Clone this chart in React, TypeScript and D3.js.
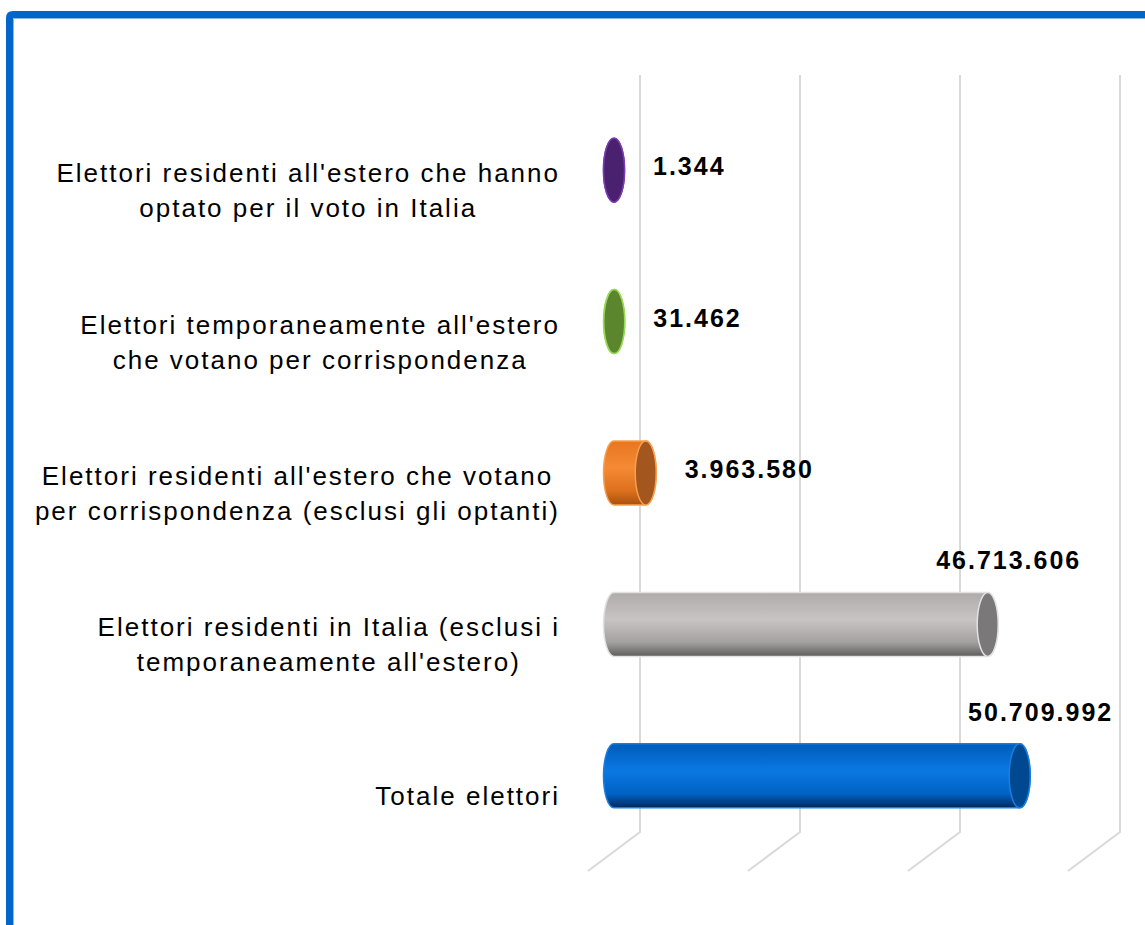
import React, { useEffect, useRef } from "react";
import * as d3 from "d3";

// ---- data ----
const categories = [
  "Elettori residenti all'estero che hanno\noptato per il voto in Italia",
  "Elettori temporaneamente all'estero\nche votano per corrispondenza",
  "Elettori residenti all'estero che votano\nper corrispondenza (esclusi gli optanti)",
  "Elettori residenti in Italia (esclusi i\ntemporaneamente all'estero)",
  "Totale elettori",
];
const values = [1344, 31462, 3963580, 46713606, 50709992];
const axisTicks = [0, 20000000, 40000000, 60000000];

// ---- styles ----
const palettes = [
  { body: ["#5a2a85", "#4a216e", "#3a1858"], cap: "#4a216e", edge: "#7a3ab0" },
  { body: ["#6a9a38", "#5c862e", "#486a22"], cap: "#5c862e", edge: "#9ad95a" },
  { body: ["#e8761f", "#f58a35", "#dc701c", "#a8500f"], cap: "#a3561e", edge: "#f7a050" },
  { body: ["#aeabaa", "#c8c4c3", "#a3a1a0", "#5e5d5d"], cap: "#7a7878", edge: "#e2e2e2" },
  { body: ["#005cb8", "#0a78e2", "#0062c4", "#002a5c"], cap: "#00488f", edge: "#1a7ee0" },
];

const W = 1145;
const H = 925;
const FONT = "'Liberation Sans', Arial, sans-serif";

export default function App() {
  const ref = useRef<SVGSVGElement | null>(null);

  useEffect(() => {
    const svg = d3.select(ref.current);
    svg.selectAll("*").remove();

    const x = d3.scaleLinear().domain([0, 60000000]).range([640, 1120]);
    const y = d3.scaleBand<string>().domain(categories).range([75, 832]);
    const depth = { dx: -52, dy: 39 };
    const mid = { dx: depth.dx / 2, dy: depth.dy / 2 };
    const rx = 10.5;
    const ry = 32;
    const fmt = d3
      .formatLocale({ decimal: ",", thousands: ".", grouping: [3], currency: ["€", ""] })
      .format(",d");

    // frame
    svg
      .append("path")
      .attr("d", `M9.5,${H + 10} L9.5,18 Q9.5,14.5 13,14.5 L${W + 10},14.5`)
      .attr("fill", "none")
      .attr("stroke", "#0066cc")
      .attr("stroke-width", 7);
    svg
      .append("path")
      .attr("d", `M13.5,${H + 10} L13.5,18.5 L${W + 10},18.5`)
      .attr("fill", "none")
      .attr("stroke", "#5b9bd5")
      .attr("stroke-width", 1)
      .attr("opacity", 0.7);

    // gradients
    const defs = svg.append("defs");
    palettes.forEach((p, i) => {
      const g = defs
        .append("linearGradient")
        .attr("id", `body${i}`)
        .attr("x1", 0)
        .attr("y1", 0)
        .attr("x2", 0)
        .attr("y2", 1);
      const n = p.body.length;
      const offs = n === 4 ? [0, 0.42, 0.78, 1] : [0, 0.5, 1];
      p.body.forEach((c, k) => {
        g.append("stop").attr("offset", offs[k]).attr("stop-color", c);
      });
    });

    // grid: back wall verticals + floor diagonals
    const yTop = y.range()[0];
    const yBot = y.range()[1];
    svg
      .append("g")
      .selectAll("path")
      .data(axisTicks)
      .join("path")
      .attr(
        "d",
        (t) =>
          `M${x(t)},${yTop} L${x(t)},${yBot} L${x(t) + depth.dx},${yBot + depth.dy}`
      )
      .attr("fill", "none")
      .attr("stroke", "#d9d9d9")
      .attr("stroke-width", 2);

    // bars
    const bars = svg.append("g");
    categories.forEach((c, i) => {
      const p = palettes[i];
      const cy = (y(c) as number) + y.bandwidth() / 2 + mid.dy;
      const x0 = x(0) + mid.dx;
      const x1 = x(values[i]) + mid.dx;
      bars
        .append("path")
        .attr(
          "d",
          `M${x0},${cy - ry} L${x1},${cy - ry} A${rx},${ry} 0 0 1 ${x1},${cy + ry} L${x0},${cy + ry} A${rx},${ry} 0 0 1 ${x0},${cy - ry} Z`
        )
        .attr("fill", `url(#body${i})`)
        .attr("stroke", p.edge)
        .attr("stroke-width", 1.5);
      bars
        .append("ellipse")
        .attr("cx", x1)
        .attr("cy", cy)
        .attr("rx", rx)
        .attr("ry", ry)
        .attr("fill", p.cap)
        .attr("stroke", p.edge)
        .attr("stroke-width", 1.5);

      // value label
      const t = svg
        .append("text")
        .text(fmt(values[i]))
        .attr("font-family", FONT)
        .attr("font-size", 25)
        .attr("font-weight", "bold")
        .attr("letter-spacing", "2px")
        .attr("fill", "#000");
      const w = (t.node() as SVGTextElement).getComputedTextLength();
      const xr = x1 + 39;
      if (xr + w > x.range()[1]) {
        t.attr("x", x1 + 21)
          .attr("y", cy - ry - 23)
          .attr("text-anchor", "middle");
      } else {
        t.attr("x", xr).attr("y", cy + 5).attr("text-anchor", "start");
      }
    });

    // category labels (front plane)
    const labelRight = x(0) + depth.dx - 28;
    categories.forEach((c) => {
      const lines = c.split("\n");
      const cy = (y(c) as number) + y.bandwidth() / 2 + depth.dy;
      const g = svg.append("g");
      const texts = lines.map((ln, j) =>
        g
          .append("text")
          .text(ln)
          .attr("font-family", FONT)
          .attr("font-size", 26)
          .attr("letter-spacing", "2px")
          .attr("fill", "#000")
          .attr("text-anchor", "middle")
          .attr("y", cy + (j - (lines.length - 1) / 2) * 35 + 10)
      );
      const maxW = d3.max(texts, (t) => (t.node() as SVGTextElement).getComputedTextLength()) || 0;
      texts.forEach((t) => t.attr("x", labelRight - maxW / 2));
    });
  }, []);

  return (
    <svg
      ref={ref}
      width={W}
      height={H}
      style={{ position: "absolute", left: 0, top: 0, background: "#fff", display: "block" }}
    />
  );
}
